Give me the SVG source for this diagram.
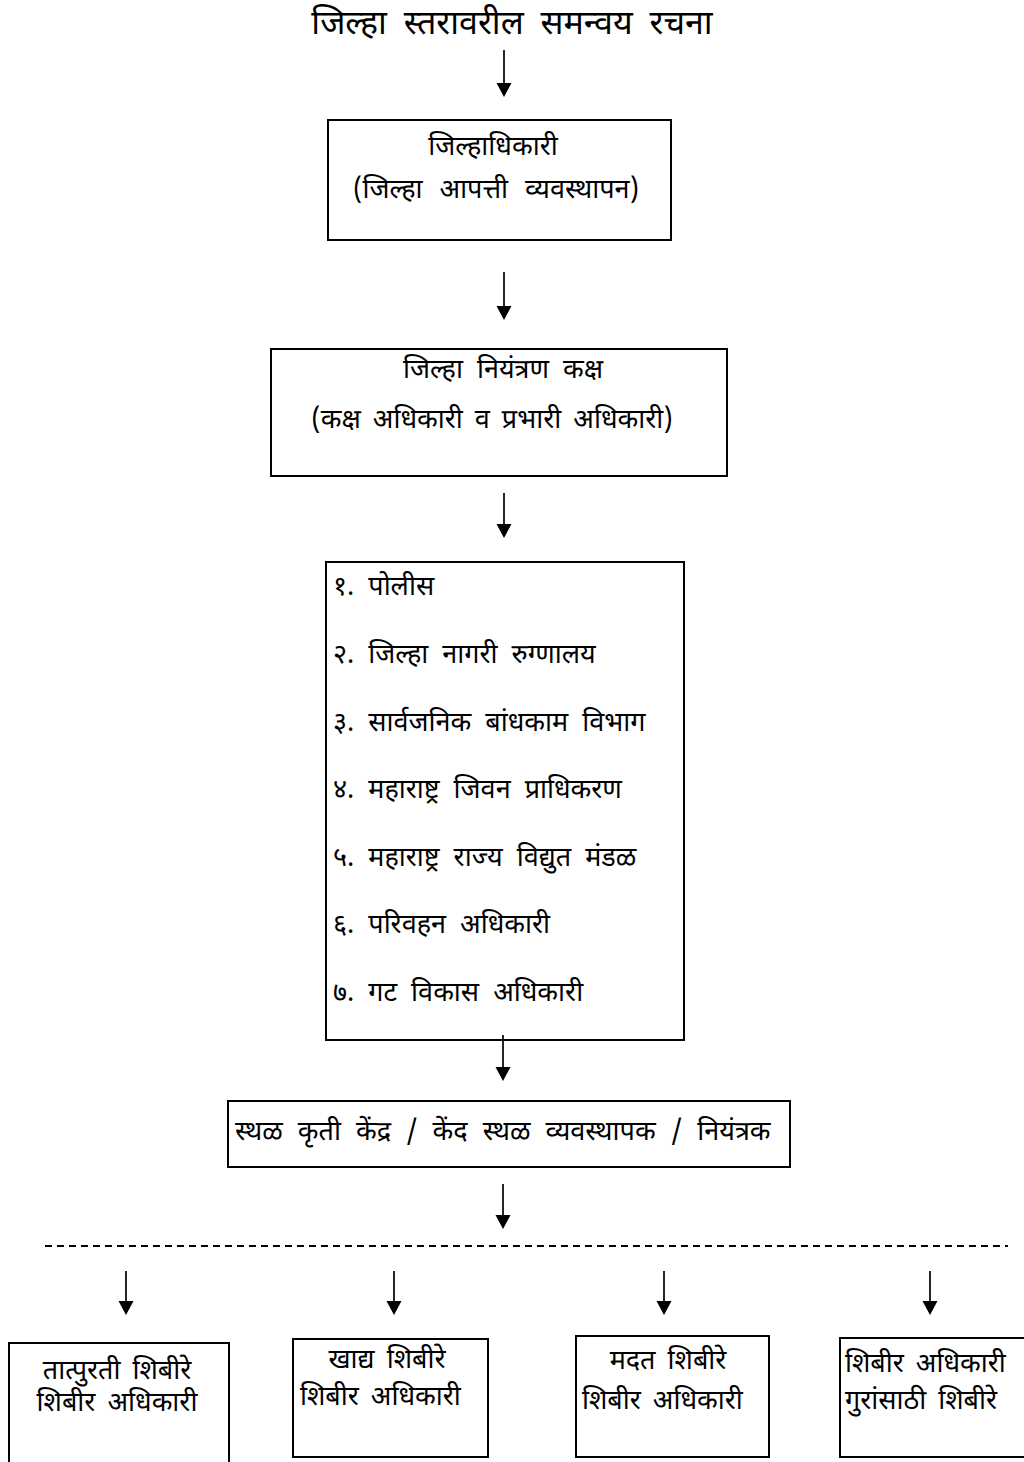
<svg xmlns="http://www.w3.org/2000/svg" width="1024" height="1462" viewBox="0 0 1024 1462">
<defs>
<style>
text{font-family:"Noto Sans Devanagari","Lohit Devanagari","Noto Sans","DejaVu Sans",sans-serif;fill:#000;}
.t{font-size:34px;word-spacing:8px;}
.n{font-size:27px;word-spacing:5px;}
.box{fill:#fff;stroke:#000;stroke-width:2;}
.arr{stroke:#000;stroke-width:1.7;fill:none;}
.head{fill:#000;stroke:none;}
.dash{stroke:#000;stroke-width:2;stroke-dasharray:7 5;fill:none;}
</style>
</defs>
<rect width="1024" height="1462" fill="#fff"/>
<g id="title"><text class="t" x="512" y="34" text-anchor="middle">जिल्हा स्तरावरील समन्वय रचना</text></g>
<g id="n1"><rect class="box" x="328" y="120" width="343" height="120"/>
<text class="n" x="493" y="155" text-anchor="middle">जिल्हाधिकारी</text>
<text class="n" x="496" y="198" text-anchor="middle" style="word-spacing:10px">(जिल्हा आपत्ती व्यवस्थापन)</text></g>
<g id="n2"><rect class="box" x="271" y="349" width="456" height="127"/>
<text class="n" x="503" y="378" text-anchor="middle" style="word-spacing:7px">जिल्हा नियंत्रण कक्ष</text>
<text class="n" x="492" y="428" text-anchor="middle">(कक्ष अधिकारी व प्रभारी अधिकारी)</text></g>
<g id="n3"><rect class="box" x="326" y="562" width="358" height="478"/>
<text class="n" x="333" y="595" style="word-spacing:7px">१. पोलीस</text>
<text class="n" x="333" y="663" style="word-spacing:7px">२. जिल्हा नागरी रुग्णालय</text>
<text class="n" x="333" y="731" style="word-spacing:7px">३. सार्वजनिक बांधकाम विभाग</text>
<text class="n" x="333" y="798" style="word-spacing:7px">४. महाराष्ट्र जिवन प्राधिकरण</text>
<text class="n" x="333" y="866" style="word-spacing:7px">५. महाराष्ट्र राज्य विद्युत मंडळ</text>
<text class="n" x="333" y="933" style="word-spacing:7px">६. परिवहन अधिकारी</text>
<text class="n" x="333" y="1001" style="word-spacing:7px">७. गट विकास अधिकारी</text></g>
<g id="n4"><rect class="box" x="228" y="1101" width="562" height="66"/>
<text class="n" x="235" y="1140" style="word-spacing:8px">स्थळ कृती केंद्र / केंद स्थळ व्यवस्थापक / नियंत्रक</text></g>
<g id="n5"><path class="box" d="M229,1462 L229,1343 L9,1343 L9,1462"/>
<text class="n" x="117" y="1379" text-anchor="middle">तात्पुरती शिबीरे</text>
<text class="n" x="117" y="1411" text-anchor="middle">शिबीर अधिकारी</text></g>
<g id="n6"><rect class="box" x="293" y="1339" width="195" height="118"/>
<text class="n" x="387" y="1368" text-anchor="middle">खाद्य शिबीरे</text>
<text class="n" x="300" y="1405">शिबीर अधिकारी</text></g>
<g id="n7"><rect class="box" x="576" y="1336" width="193" height="121"/>
<text class="n" x="668" y="1369" text-anchor="middle">मदत शिबीरे</text>
<text class="n" x="582" y="1409">शिबीर अधिकारी</text></g>
<g id="n8"><path class="box" d="M1026,1338 L840,1338 L840,1457 L1026,1457"/>
<text class="n" x="845" y="1372">शिबीर अधिकारी</text>
<text class="n" x="845" y="1409">गुरांसाठी शिबीरे</text></g>
<g id="connectors">
<path class="arr" d="M504,50 V86"/><path class="head" d="M496.5,83 H511.5 L504,97 Z"/>
<path class="arr" d="M504,272 V309"/><path class="head" d="M496.5,306 H511.5 L504,320 Z"/>
<path class="arr" d="M504,493 V527"/><path class="head" d="M496.5,524 H511.5 L504,538 Z"/>
<path class="arr" d="M503,1035 V1070"/><path class="head" d="M495.5,1067 H510.5 L503,1081 Z"/>
<path class="arr" d="M503,1184 V1218"/><path class="head" d="M495.5,1215 H510.5 L503,1229 Z"/>
<path class="dash" d="M45,1246 H1008"/>
<path class="arr" d="M126,1271 V1304"/><path class="head" d="M118.5,1301 H133.5 L126,1315 Z"/>
<path class="arr" d="M394,1271 V1304"/><path class="head" d="M386.5,1301 H401.5 L394,1315 Z"/>
<path class="arr" d="M664,1271 V1304"/><path class="head" d="M656.5,1301 H671.5 L664,1315 Z"/>
<path class="arr" d="M930,1271 V1304"/><path class="head" d="M922.5,1301 H937.5 L930,1315 Z"/>
</g>
</svg>
